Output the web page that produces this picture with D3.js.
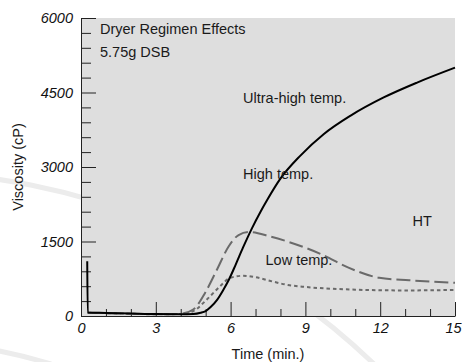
<!DOCTYPE html>
<html>
<head>
<meta charset="utf-8">
<script src="https://cdn.jsdelivr.net/npm/d3@7"></script>
<style>
  body { margin: 0; background: #fff; }
  svg { display: block; font-family: "Liberation Sans", Arial, sans-serif; }
  .tick text { font-style: italic; font-size: 14.5px; fill: #111; }
  .label { font-size: 14.5px; fill: #1a1a1a; }
</style>
</head>
<body>
<script>
// time (min.) and viscosity (cP)
var solidTime  = [0.25, 0.27, 1, 2, 3, 4, 4.5, 4.8, 5.0, 5.2, 5.45, 5.7, 5.92, 6.2, 6.5, 6.86, 7.19, 7.46, 7.99, 8.8, 9.73, 10.8, 12.14, 13.48, 15];
var solidVisc  = [1100, 70, 62, 50, 38, 35, 40, 65, 100, 180, 320, 520, 720, 1030, 1380, 1770, 2090, 2330, 2760, 3230, 3660, 4030, 4400, 4700, 5000];

var dashTime   = [0.27, 1, 2, 3, 4, 4.5, 4.98, 5.45, 5.92, 6.32, 6.75, 7.59, 8.34, 9.68, 10.75, 11.96, 13.16, 15];
var dashVisc   = [65, 58, 45, 35, 45, 130, 470, 930, 1400, 1630, 1690, 1600, 1490, 1234, 968, 770, 720, 668];

var dotTime    = [0.27, 1, 2, 3, 4, 4.51, 5.05, 5.58, 5.98, 6.5, 7.0, 7.6, 8.3, 9.0, 10, 11, 13, 15];
var dotVisc    = [65, 58, 45, 35, 40, 100, 334, 600, 768, 810, 780, 705, 625, 585, 550, 530, 515, 525];

var yMajor = [0, 1500, 3000, 4500, 6000];
var xMajor = [0, 3, 6, 9, 12, 15];

var margin = {top: 18, right: 7, bottom: 46, left: 81},
    width = 462 - margin.left - margin.right,
    height = 362 - margin.top - margin.bottom;

var x = d3.scaleLinear().domain([0, 15]).range([0, width]);
var y = d3.scaleLinear().domain([0, 6000]).range([height, 0]);

var root = d3.select("body").append("svg")
    .attr("width", 462)
    .attr("height", 362);

// faint swoosh behind the chart
var arc = d3.arc().startAngle(0).endAngle(Math.PI / 2);
root.append("g")
    .attr("transform", "translate(-102,858)")
  .selectAll("path")
    .data([686, 517])
  .enter().append("path")
    .attr("d", function(r) { return arc({innerRadius: r - 2.5, outerRadius: r + 2.5}); })
    .style("fill", "#ececec");

var svg = root.append("g")
    .attr("transform", "translate(" + margin.left + "," + margin.top + ")");

svg.append("rect")
    .attr("width", width)
    .attr("height", height)
    .style("fill", "#dedede");

// minor ticks
var yMinor = d3.range(0, 6001, 300).filter(function(d) { return d % 1500 !== 0; });
var xMinor = d3.range(0, 16, 1).filter(function(d) { return d % 3 !== 0; });

svg.append("g")
    .call(d3.axisLeft(y).tickValues(yMinor).tickSize(-10).tickFormat(""))
    .call(function(g) { g.select(".domain").remove(); });

svg.append("g")
    .attr("transform", "translate(0," + height + ")")
    .call(d3.axisBottom(x).tickValues(xMinor).tickSize(-7).tickFormat(""))
    .call(function(g) { g.select(".domain").remove(); });

svg.append("g")
    .attr("class", "y axis")
    .call(d3.axisLeft(y).tickValues(yMajor).tickFormat(d3.format("d"))
      .tickSize(-15).tickSizeOuter(0).tickPadding(8));

svg.append("g")
    .attr("class", "x axis")
    .attr("transform", "translate(0," + height + ")")
    .call(d3.axisBottom(x).tickValues(xMajor).tickFormat(d3.format("d"))
      .tickSize(-14).tickSizeOuter(0).tickPadding(7));

svg.selectAll(".tick line").style("stroke", "#222");
svg.selectAll(".domain").style("stroke", "#222");
svg.selectAll(".tick text").attr("font-family", null).attr("font-size", null);
// last label sits against the page edge
svg.selectAll(".x.axis .tick text").filter(function(d) { return d === 15; }).attr("dx", -2);

var line = d3.line()
    .x(function(d) { return x(d[0]); })
    .y(function(d) { return y(d[1]); })
    .curve(d3.curveMonotoneX);

function pairs(t, v) { return t.map(function(d, i) { return [d, v[i]]; }); }

svg.append("path")
    .attr("d", line(pairs(dotTime, dotVisc)))
    .style("fill", "none")
    .style("stroke", "#6a6a6a")
    .style("stroke-width", 2)
    .style("stroke-dasharray", "3.5,3");

svg.append("path")
    .attr("d", line(pairs(dashTime, dashVisc)))
    .style("fill", "none")
    .style("stroke", "#6a6a6a")
    .style("stroke-width", 2)
    .style("stroke-dasharray", "14,5");

svg.append("path")
    .attr("d", line(pairs(solidTime, solidVisc)))
    .style("fill", "none")
    .style("stroke", "#000")
    .style("stroke-width", 2);

// texts inside the plot
svg.append("text").attr("class", "label").attr("x", 19).attr("y", 16).text("Dryer Regimen Effects");
svg.append("text").attr("class", "label").attr("x", 19).attr("y", 39).text("5.75g DSB");
svg.append("text").attr("class", "label").attr("x", x(6.5)).attr("y", 85).text("Ultra-high temp.");
svg.append("text").attr("class", "label").attr("x", x(6.5)).attr("y", 161).text("High temp.");
svg.append("text").attr("class", "label").attr("x", x(7.4)).attr("y", 247).text("Low temp.");
svg.append("text").attr("class", "label").attr("x", x(13.3)).attr("y", 208).text("HT");

// axis titles
root.append("text")
    .attr("class", "label")
    .attr("transform", "translate(23," + (margin.top + height / 2) + ") rotate(-90)")
    .style("text-anchor", "middle")
    .text("Viscosity (cP)");

root.append("text")
    .attr("class", "label")
    .attr("x", margin.left + width / 2)
    .attr("y", 359)
    .style("text-anchor", "middle")
    .text("Time (min.)");
</script>
</body>
</html>
